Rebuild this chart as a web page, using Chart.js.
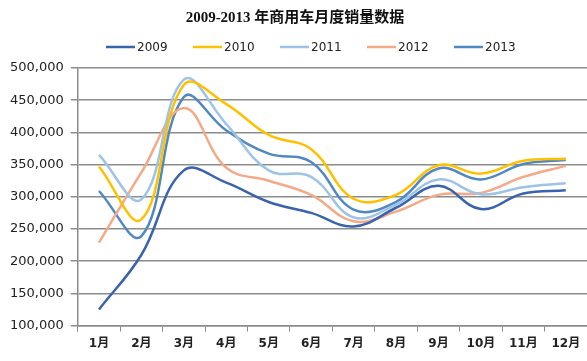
<!DOCTYPE html>
<html>
<head>
<meta charset="utf-8">
<script src="https://cdn.jsdelivr.net/npm/chart.js@4.4.1/dist/chart.umd.min.js"></script>
<style>
  body { margin: 0; background: #fff; }
  #wrap { width: 587px; height: 361px; position: relative; }
</style>
</head>
<body>
<div id="wrap"><canvas id="chart"></canvas></div>
<script>
// monthly commercial vehicle sales
const months = ['1月', '2月', '3月', '4月', '5月', '6月', '7月', '8月', '9月', '10月', '11月', '12月']
const sales2009 = [125000, 210000, 341000, 322000, 292000, 275000, 254000, 283000, 317000, 281000, 305000, 310000]
const sales2010 = [347000, 265000, 474000, 444000, 396000, 374000, 297000, 303000, 349000, 336000, 356000, 359000]
const sales2011 = [365000, 296000, 482000, 413000, 341000, 331000, 268000, 288000, 327000, 304000, 315000, 321000]
const sales2012 = [229000, 338000, 438000, 345000, 325000, 303000, 262000, 277000, 303000, 306000, 331000, 348000]
const sales2013 = [309000, 239000, 455000, 403000, 367000, 354000, 280000, 292000, 344000, 327000, 351000, 357000]
const yTicks = [100000, 150000, 200000, 250000, 300000, 350000, 400000, 450000, 500000]

const line = (label, data, color) => ({
  label: label,
  data: data,
  borderColor: color,
  backgroundColor: color,
  borderWidth: 2.5,
  pointRadius: 0,
  tension: 0.4,
  fill: false,
})

// legend drawn by hand so it sits where the original one does
const legendRow = {
  id: 'legendRow',
  afterDraw(chart) {
    const c = chart.ctx
    c.save()
    c.font = "12px 'DejaVu Sans'"
    c.textBaseline = 'middle'
    chart.data.datasets.forEach((ds, i) => {
      const x = 106 + i * 87
      const y = 47
      c.strokeStyle = ds.borderColor
      c.lineWidth = 2.5
      c.beginPath()
      c.moveTo(x, y)
      c.lineTo(x + 29, y)
      c.stroke()
      c.fillStyle = '#222'
      c.fillText(ds.label, x + 31, y + 1)
    })
    c.restore()
  },
}

const ctx = document.getElementById('chart').getContext('2d')
new Chart(ctx, {
  type: 'line',
  data: {
    labels: months,
    datasets: [
      line('2009', sales2009, '#3A63AD'),
      line('2010', sales2010, '#FFC000'),
      line('2011', sales2011, '#9DC3E6'),
      line('2012', sales2012, '#F4A987'),
      line('2013', sales2013, '#4F88C2'),
    ],
  },
  plugins: [legendRow],
  options: {
    responsive: true,
    maintainAspectRatio: false,
    animation: false,
    layout: { padding: { left: 3, right: 0, top: 6, bottom: 5 } },
    plugins: {
      title: {
        display: true,
        text: '2009-2013 年商用车月度销量数据',
        color: '#111',
        font: { family: "'Liberation Serif', 'Noto Sans CJK SC'", size: 15, weight: 'bold' },
        padding: { top: 3, bottom: 41 },
      },
      legend: { display: false },
      tooltip: { enabled: false },
    },
    scales: {
      x: {
        offset: true,
        grid: { drawOnChartArea: false, drawTicks: true, tickLength: 6, color: '#8c8c8c', offset: true },
        border: { color: '#8c8c8c', width: 1.5 },
        ticks: {
          color: '#222',
          padding: 5,
          maxRotation: 0,
          autoSkip: false,
          font: { family: "'DejaVu Sans', 'Noto Sans CJK SC'", size: 12, weight: 'bold' },
        },
      },
      y: {
        min: 100000,
        max: 500000,
        afterBuildTicks: (scale) => { scale.ticks = yTicks.map(v => ({ value: v })) },
        grid: { color: '#8c8c8c', lineWidth: 1.5, tickLength: 7 },
        border: { color: '#8c8c8c', width: 1.5 },
        ticks: {
          color: '#222',
          padding: 7,
          font: { family: "'DejaVu Sans'", size: 13 },
          callback: (v) => v.toLocaleString('en-US'),
        },
      },
    },
  },
})
</script>
</body>
</html>
